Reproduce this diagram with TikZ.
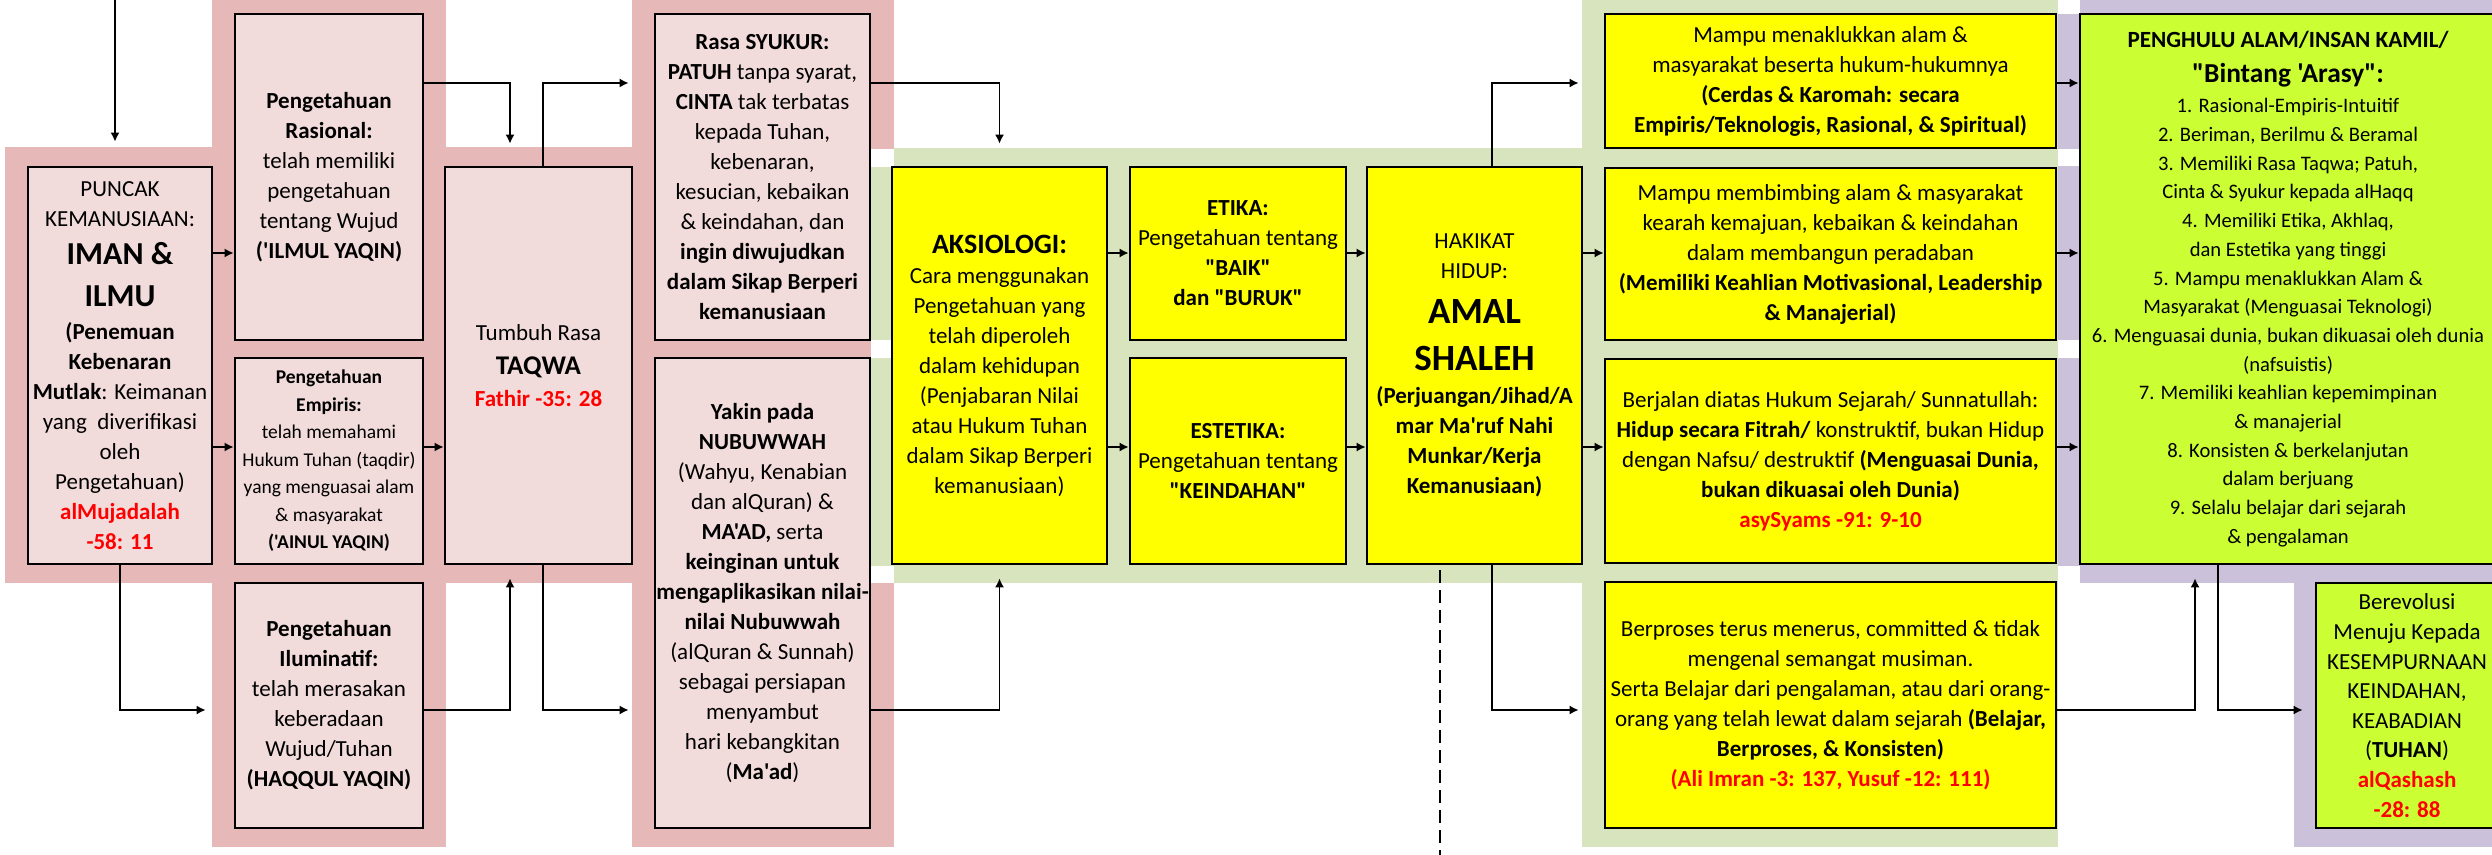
\documentclass[tikz,border=0pt]{standalone}
\usepackage{fontspec}
\setmainfont{Carlito}[Ligatures=TeXOff]
\usetikzlibrary{arrows.meta}

\definecolor{pinkbg}{RGB}{230,185,184}
\definecolor{pinkbox}{RGB}{242,220,219}
\definecolor{greenbg}{RGB}{215,228,189}
\definecolor{purplebg}{RGB}{204,193,218}
\definecolor{yelbox}{RGB}{255,255,0}
\definecolor{limebox}{RGB}{204,255,51}
\definecolor{citered}{RGB}{255,0,0}

\newcommand{\ayat}[1]{\textcolor{citered}{\bfseries #1}}
\newcommand{\bigbf}[2]{{\fontsize{#1}{15}\selectfont\bfseries #2}}

\tikzset{
  box/.style={draw=black, line width=1.4pt, align=center, inner sep=0pt,
    font=\fontsize{11.5}{15}\selectfont},
  pbox/.style={box, fill=pinkbox},
  ybox/.style={box, fill=yelbox},
  lbox/.style={box, fill=limebox},
  arr/.style={line width=0.75pt, -{Latex[length=4.5pt,width=4.5pt]}},
  dashline/.style={line width=0.6pt, dash pattern=on 6.5pt off 3.5pt},
}

\begin{document}
\begin{tikzpicture}[x=0.5pt,y=-0.5pt]
\useasboundingbox (0,0) rectangle (2492,855);

% group backgrounds
\fill[pinkbg] (5,147) rectangle (212,583);
\fill[pinkbg] (212,0) rectangle (446,847);
\fill[pinkbg] (446,147) rectangle (632,583);
\fill[pinkbg] (632,0) rectangle (894,149);
\fill[pinkbg] (632,149) rectangle (871,583);
\fill[pinkbg] (632,583) rectangle (894,847);

\fill[greenbg] (871,167) rectangle (894,340);
\fill[greenbg] (871,358) rectangle (894,566);
\fill[greenbg] (894,148) rectangle (1582,583);
\fill[greenbg] (1582,0) rectangle (2058,847);

\fill[purplebg] (2058,14) rectangle (2080,149);
\fill[purplebg] (2058,166) rectangle (2080,340);
\fill[purplebg] (2058,358) rectangle (2080,566);
\fill[purplebg] (2080,0) rectangle (2492,583);
\fill[purplebg] (2294,583) rectangle (2492,847);

% arrow lanes
\coordinate (r1) at (0,83);
\coordinate (r2) at (0,253);
\coordinate (r3) at (0,447);
\coordinate (r4) at (0,710);
\coordinate (entry) at (115,0);

% pink group
\node[pbox, minimum width=92pt, minimum height=198.5pt] (puncak) at (120,365.5)
 {PUNCAK\\ KEMANUSIAAN:\\[4pt]
  \bigbf{16}{IMAN \&}\\[6pt]
  \bigbf{16}{ILMU}\\[1.5pt]
  \textbf{(Penemuan}\\ \textbf{Kebenaran}\\ \textbf{Mutlak}: Keimanan\\
  yang\ \ diverifikasi\\ oleh\\ Pengetahuan)\\ \ayat{alMujadalah}\\ \ayat{-58: 11}};

\node[pbox, minimum width=94pt, minimum height=163pt] (rasional) at (329,177)
 {\textbf{Pengetahuan}\\ \textbf{Rasional:}\\ telah memiliki\\ pengetahuan\\
  tentang Wujud\\ \textbf{('ILMUL YAQIN)}};

\node[pbox, minimum width=94pt, minimum height=103pt,
  font=\fontsize{9.75}{13.75}\selectfont] (empiris) at (329,461)
 {\textbf{Pengetahuan}\\ \textbf{Empiris:}\\ telah memahami\\ Hukum Tuhan (taqdir)\\
  yang menguasai alam\\ \& masyarakat\\ \textbf{('AINUL YAQIN)}};

\node[pbox, minimum width=94pt, minimum height=122.5pt] (iluminatif) at (329,705.5)
 {\textbf{Pengetahuan}\\ \textbf{Iluminatif:}\\ telah merasakan\\ keberadaan\\
  Wujud/Tuhan\\ \textbf{(HAQQUL YAQIN)}};

\node[pbox, minimum width=93.5pt, minimum height=198.5pt] (taqwa) at (538.5,365.5)
 {Tumbuh Rasa\\[2pt] \bigbf{13.5}{TAQWA}\\[1pt] \ayat{Fathir -35: 28}};

\node[pbox, minimum width=107.5pt, minimum height=163pt] (syukur) at (762.5,177)
 {\textbf{Rasa SYUKUR:}\\ \textbf{PATUH} tanpa syarat,\\ \textbf{CINTA} tak terbatas\\
  kepada Tuhan,\\ kebenaran,\\ kesucian, kebaikan\\ \& keindahan, dan\\
  \textbf{ingin diwujudkan}\\ \textbf{dalam Sikap Berperi}\\ \textbf{kemanusiaan}};

\node[pbox, minimum width=107.5pt, minimum height=235pt] (yakin) at (762.5,593)
 {\textbf{Yakin pada}\\ \textbf{NUBUWWAH}\\ (Wahyu, Kenabian\\ dan alQuran) \&\\
  \textbf{MA'AD,} serta\\ \textbf{keinginan untuk}\\ \textbf{mengaplikasikan nilai-}\\
  \textbf{nilai Nubuwwah}\\ (alQuran \& Sunnah)\\ sebagai persiapan\\ menyambut\\
  hari kebangkitan\\ (\textbf{Ma'ad})};

% yellow group
\node[ybox, minimum width=107.5pt, minimum height=198.5pt] (aksiologi) at (999.5,365.5)
 {\bigbf{14}{AKSIOLOGI:}\\ Cara menggunakan\\ Pengetahuan yang\\ telah diperoleh\\
  dalam kehidupan\\ (Penjabaran Nilai\\ atau Hukum Tuhan\\ dalam Sikap Berperi\\
  kemanusiaan)};

\node[ybox, minimum width=108pt, minimum height=86.5pt] (etika) at (1238,253.5)
 {\textbf{ETIKA:}\\ Pengetahuan tentang\\ \textbf{"BAIK"}\\ \textbf{dan "BURUK"}};

\node[ybox, minimum width=108pt, minimum height=103pt] (estetika) at (1238,461)
 {\textbf{ESTETIKA:}\\ Pengetahuan tentang\\ \textbf{"KEINDAHAN"}};

\node[ybox, minimum width=107.5pt, minimum height=198.5pt] (hakikat) at (1474.5,365.5)
 {HAKIKAT\\ HIDUP:\\[7.5pt] \bigbf{18.5}{AMAL}\\[8.5pt] \bigbf{18.5}{SHALEH}\\[1.5pt]
  \textbf{(Perjuangan/Jihad/A}\\ \textbf{mar Ma'ruf Nahi}\\ \textbf{Munkar/Kerja}\\
  \textbf{Kemanusiaan)}};

\node[ybox, minimum width=225.5pt, minimum height=67pt] (menaklukkan) at (1830.5,81)
 {Mampu menaklukkan alam \&\\ masyarakat beserta hukum-hukumnya\\
  \textbf{(Cerdas \& Karomah: secara}\\ \textbf{Empiris/Teknologis, Rasional, \& Spiritual)}};

\node[ybox, minimum width=225.5pt, minimum height=86pt] (membimbing) at (1830.5,254)
 {Mampu membimbing alam \& masyarakat\\ kearah kemajuan, kebaikan \& keindahan\\
  dalam membangun peradaban\\ \textbf{(Memiliki Keahlian Motivasional, Leadership}\\
  \textbf{\& Manajerial)}};

\node[ybox, minimum width=225.5pt, minimum height=102pt] (berjalan) at (1830.5,461)
 {Berjalan diatas Hukum Sejarah/ Sunnatullah:\\
  \textbf{Hidup secara Fitrah/} konstruktif, bukan Hidup\\
  dengan Nafsu/ destruktif \textbf{(Menguasai Dunia,}\\
  \textbf{bukan dikuasai oleh Dunia)}\\ \ayat{asySyams -91: 9-10}};

\node[ybox, minimum width=225.5pt, minimum height=123pt] (berproses) at (1830.5,705)
 {Berproses terus menerus, committed \& tidak\\ mengenal semangat musiman.\\
  Serta Belajar dari pengalaman, atau dari orang-\\
  orang yang telah lewat dalam sejarah \textbf{(Belajar,}\\
  \textbf{Berproses, \& Konsisten)}\\ \ayat{(Ali Imran -3: 137, Yusuf -12: 111)}};

% lime group
\node[lbox, minimum width=208pt, minimum height=275pt,
  font=\fontsize{10.3}{14.35}\selectfont] (penghulu) at (2288,289)
 {{\fontsize{11.6}{15}\selectfont\bfseries PENGHULU ALAM/INSAN KAMIL/}\\[3pt]
  \bigbf{13.7}{"Bintang 'Arasy":}\\[1pt]
  1. Rasional-Empiris-Intuitif\\ 2. Beriman, Berilmu \& Beramal\\
  3. Memiliki Rasa Taqwa; Patuh,\\ Cinta \& Syukur kepada alHaqq\\
  4. Memiliki Etika, Akhlaq,\\ dan Estetika yang tinggi\\
  5. Mampu menaklukkan Alam \&\\ Masyarakat (Menguasai Teknologi)\\
  6. Menguasai dunia, bukan dikuasai oleh dunia\\ (nafsuistis)\\
  7. Memiliki keahlian kepemimpinan\\ \& manajerial\\
  8. Konsisten \& berkelanjutan\\ dalam berjuang\\
  9. Selalu belajar dari sejarah\\ \& pengalaman};

\node[lbox, minimum width=91pt, minimum height=122.5pt,
  font=\fontsize{11.5}{14.8}\selectfont] (berevolusi) at (2407,705.5)
 {Berevolusi\\ Menuju Kepada\\ KESEMPURNAAN\\ KEINDAHAN,\\ KEABADIAN\\
  (\textbf{TUHAN})\\ \ayat{alQashash}\\ \ayat{-28: 88}};

% connectors
\draw[arr, shorten >=12pt] (entry) -- (entry |- puncak.north);
\draw[arr] (puncak.east |- r2) -- (rasional.west |- r2);
\draw[arr] (puncak.east |- r3) -- (empiris.west |- r3);
\draw[arr, shorten >=14pt] (puncak.south) |- (iluminatif.west |- r4);

\draw[arr, shorten >=11pt] (rasional.east |- r1) -| ([xshift=-14.25pt]taqwa.north);
\draw[arr] (empiris.east |- r3) -- (taqwa.west |- r3);
\draw[arr, shorten >=6.5pt] (iluminatif.east |- r4) -| ([xshift=-14.25pt]taqwa.south);

\draw[arr, shorten >=12.5pt] ([xshift=2.25pt]taqwa.north) |- (syukur.west |- r1);
\draw[arr, shorten >=12.5pt] ([xshift=2.25pt]taqwa.south) |- (yakin.west |- r4);

\draw[arr, shorten >=11pt] (syukur.east |- r1) -| (aksiologi.north);
\draw[arr, shorten >=6.5pt] (yakin.east |- r4) -| (aksiologi.south);

\draw[arr] (aksiologi.east |- r2) -- (etika.west |- r2);
\draw[arr] (aksiologi.east |- r3) -- (estetika.west |- r3);
\draw[arr] (etika.east |- r2) -- (hakikat.west |- r2);
\draw[arr] (estetika.east |- r3) -- (hakikat.west |- r3);

\draw[arr, shorten >=12.5pt] ([xshift=8.75pt]hakikat.north) |- (menaklukkan.west |- r1);
\draw[arr] (hakikat.east |- r2) -- (membimbing.west |- r2);
\draw[arr] (hakikat.east |- r3) -- (berjalan.west |- r3);
\draw[arr, shorten >=12.5pt] ([xshift=8.75pt]hakikat.south) |- (berproses.west |- r4);

\draw[arr] (menaklukkan.east |- r1) -- (penghulu.west |- r1);
\draw[arr] (membimbing.east |- r2) -- (penghulu.west |- r2);
\draw[arr] (berjalan.east |- r3) -- (penghulu.west |- r3);
\draw[arr, shorten >=6.5pt] (berproses.east |- r4) -| ([xshift=-46.5pt]penghulu.south);
\draw[arr, shorten >=6pt] ([xshift=-35pt]penghulu.south) |- (berevolusi.west |- r4);

% dashed guide below the central box
\draw[dashline] ([xshift=-17.25pt,yshift=-2.5pt]hakikat.south) -- ++(0,288);
\end{tikzpicture}
\end{document}
